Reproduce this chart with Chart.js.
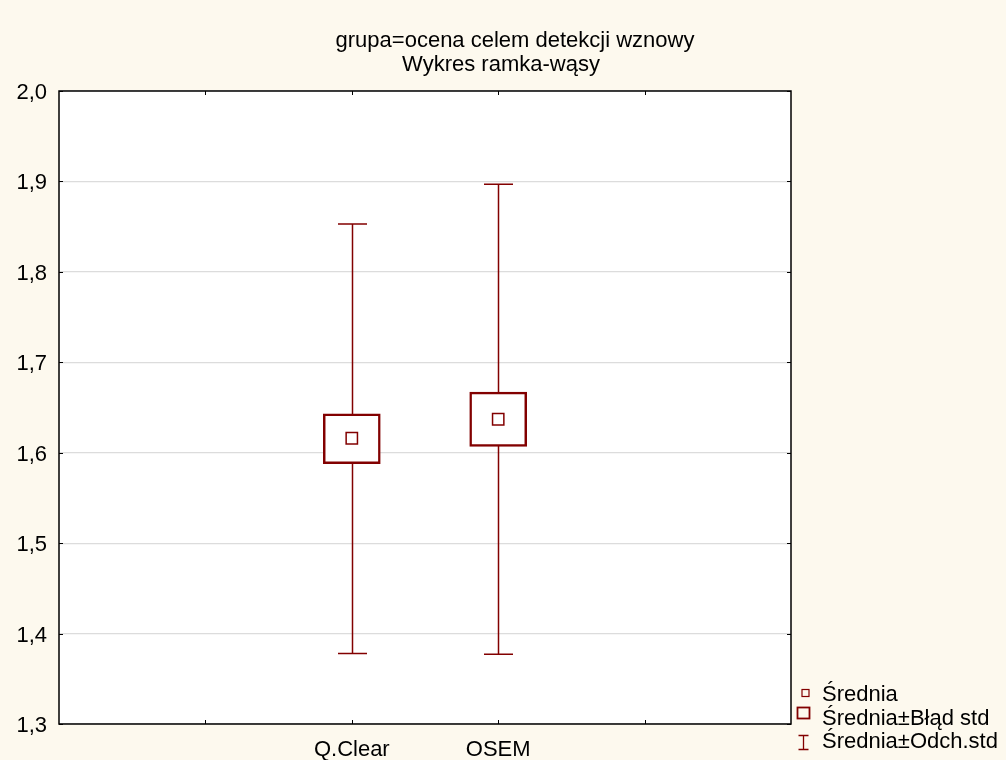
<!DOCTYPE html>
<html>
<head>
<meta charset="utf-8">
<script src="https://cdn.jsdelivr.net/npm/chart.js@4"></script>
<style>
  html, body { margin: 0; padding: 0; background: #fdf9ee; }
  #wrap { width: 1006px; height: 760px; }
</style>
</head>
<body>
<div id="wrap"><canvas id="boxChart" width="1006" height="760"></canvas></div>
<script>
const categories = ['Q.Clear', 'OSEM'];
const categoryPos = [2, 3];
const means = [1.616, 1.637];
const seLow = [1.588, 1.607];
const seHigh = [1.643, 1.667];
const sdLow = [1.378, 1.377];
const sdHigh = [1.853, 1.897];
const titleLines = ['grupa=ocena celem detekcji wznowy', 'Wykres ramka-wąsy'];
const legendLabels = ['Średnia', 'Średnia±Błąd std', 'Średnia±Odch.std'];

const RED = '#820000';
const FONT = '"Liberation Sans", Arial, sans-serif';

const whiskers = {
    id: 'whiskers',
    beforeDatasetsDraw(chart) {
        const { ctx, scales: { x, y } } = chart;
        ctx.save();
        ctx.strokeStyle = RED;
        ctx.lineWidth = 1.5;
        categoryPos.forEach((p, i) => {
            const px = Math.round(x.getPixelForValue(p)) + 0.5;
            const top = y.getPixelForValue(sdHigh[i]);
            const bot = y.getPixelForValue(sdLow[i]);
            ctx.beginPath();
            ctx.moveTo(px, top);
            ctx.lineTo(px, bot);
            ctx.moveTo(px - 14.5, top);
            ctx.lineTo(px + 14.5, top);
            ctx.moveTo(px - 14.5, bot);
            ctx.lineTo(px + 14.5, bot);
            ctx.stroke();
        });
        ctx.restore();
    },
    afterDraw(chart) {
        const { ctx, chartArea: a, scales: { x, y } } = chart;
        ctx.save();
        // frame
        ctx.strokeStyle = '#000';
        ctx.lineWidth = 1.5;
        ctx.strokeRect(a.left, a.top, a.right - a.left, a.bottom - a.top);
        // inside ticks
        ctx.lineWidth = 1;
        ctx.beginPath();
        y.ticks.forEach(t => {
            const py = Math.round(y.getPixelForValue(t.value)) + 0.5;
            ctx.moveTo(a.left, py); ctx.lineTo(a.left + 4, py);
            ctx.moveTo(a.right, py); ctx.lineTo(a.right - 4, py);
        });
        x.ticks.forEach(t => {
            if (t.value <= x.min || t.value >= x.max) return;
            const px = Math.round(x.getPixelForValue(t.value)) + 0.5;
            ctx.moveTo(px, a.bottom); ctx.lineTo(px, a.bottom - 4);
            ctx.moveTo(px, a.top); ctx.lineTo(px, a.top + 4);
        });
        ctx.stroke();

        // title
        ctx.fillStyle = '#000';
        ctx.font = '22px ' + FONT;
        ctx.textAlign = 'center';
        ctx.textBaseline = 'alphabetic';
        ctx.fillText(titleLines[0], 515, 47);
        ctx.fillText(titleLines[1], 501, 71);

        // legend
        ctx.textAlign = 'left';
        const rows = [701, 724.5, 748];
        ctx.strokeStyle = RED;
        ctx.lineWidth = 1.2;
        ctx.strokeRect(802, 689.5, 7, 7);
        ctx.lineWidth = 1.8;
        ctx.strokeRect(797.5, 707.5, 12, 11);
        ctx.lineWidth = 1.3;
        ctx.beginPath();
        ctx.moveTo(803.5, 735); ctx.lineTo(803.5, 750);
        ctx.moveTo(798.5, 735.5); ctx.lineTo(808.5, 735.5);
        ctx.moveTo(798.5, 749.5); ctx.lineTo(808.5, 749.5);
        ctx.stroke();
        legendLabels.forEach((l, i) => ctx.fillText(l, 822, rows[i]));
        ctx.restore();
    }
};

const plotBg = {
    id: 'plotBg',
    beforeDraw(chart) {
        const { ctx, chartArea: a } = chart;
        ctx.save();
        ctx.fillStyle = '#fdf9ee';
        ctx.fillRect(0, 0, chart.width, chart.height);
        ctx.fillStyle = '#ffffff';
        ctx.fillRect(a.left, a.top, a.right - a.left, a.bottom - a.top);
        ctx.restore();
    }
};

new Chart(document.getElementById('boxChart').getContext('2d'), {
    type: 'scatter',
    data: {
        datasets: [
            {
                type: 'bar',
                label: 'Średnia±Błąd std',
                data: categoryPos.map((p, i) => ({ x: p, y: [seLow[i], seHigh[i]] })),
                backgroundColor: '#ffffff',
                borderColor: RED,
                borderWidth: 2.5,
                borderSkipped: false,
                barThickness: 57,
                order: 2
            },
            {
                label: 'Średnia',
                data: categoryPos.map((p, i) => ({ x: p, y: means[i] })),
                pointStyle: 'rect',
                pointRadius: 8,
                pointHoverRadius: 8,
                backgroundColor: '#ffffff',
                borderColor: RED,
                borderWidth: 1.5,
                order: 1
            }
        ]
    },
    options: {
        responsive: false,
        animation: false,
        layout: { padding: { left: 0, top: 91, right: 215, bottom: 0 } },
        plugins: { legend: { display: false }, tooltip: { enabled: false } },
        scales: {
            x: {
                type: 'linear',
                min: 0,
                max: 5,
                offset: false,
                grid: { display: false, drawTicks: false },
                border: { display: false },
                ticks: {
                    stepSize: 1,
                    padding: 13,
                    color: '#000',
                    font: { size: 22, family: FONT },
                    callback: v => {
                        const i = categoryPos.indexOf(v);
                        return i >= 0 ? categories[i] : '';
                    }
                },
                afterFit: s => { s.height = 36; }
            },
            y: {
                min: 1.3,
                max: 2.0,
                grid: { color: '#dcdcdc', lineWidth: 1.2, drawTicks: false },
                border: { display: false },
                ticks: {
                    stepSize: 0.1,
                    padding: 12,
                    labelOffset: 2,
                    color: '#000',
                    font: { size: 22, family: FONT },
                    callback: v => v.toFixed(1).replace('.', ',')
                },
                afterFit: s => { s.width = 59; }
            }
        }
    },
    plugins: [plotBg, whiskers]
});
</script>
</body>
</html>
